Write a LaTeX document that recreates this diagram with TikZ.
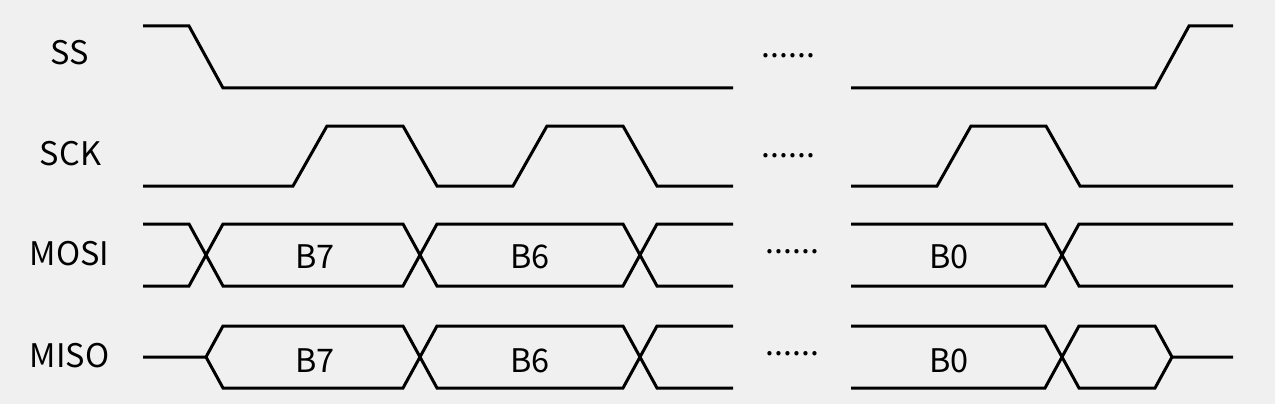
\documentclass[tikz,border=0pt]{standalone}
\usepackage{fontspec}
\setmainfont{Noto Sans CJK SC}
\definecolor{bg}{HTML}{F0F0F0}
\begin{document}
\begin{tikzpicture}[x=1pt,y=-1pt,
  sig/.style={line width=3pt,black,line join=miter},
  lbl/.style={anchor=base,inner sep=0pt,font=\fontsize{32.5}{32.5}\selectfont},
  dots/.style={anchor=base,inner sep=0pt,font=\fontsize{32}{32}\selectfont}]
\fill[bg] (0,0) rectangle (1275,404);
\useasboundingbox (0,0) rectangle (1275,404);
% labels
\node[lbl] (lss) at (69.5,65) {SS};
\node[lbl] (lsck) at (70.5,165) {SCK};
\node[lbl] (lmosi) at (69.5,265) {MOSI};
\node[lbl] (lmiso) at (69.5,367) {MISO};
% SS
\draw[sig] (143,26) -- (189,26) -- (223,88) -- (733,88);
\draw[sig] (851,88) -- (1155,88) -- (1189,26) -- (1233,26);
% SCK
\draw[sig] (143,186) -- (293,186) -- (327,126) -- (403,126) -- (437,186) -- (513,186) -- (547,126) -- (623,126) -- (657,186) -- (733,186);
\draw[sig] (851,186) -- (937,186) -- (971,126) -- (1046,126) -- (1080,186) -- (1233,186);
% MOSI
\draw[sig] (143,224) -- (189,224) -- (223,286) -- (403,286) -- (437,224) -- (623,224) -- (657,286) -- (733,286);
\draw[sig] (143,286) -- (189,286) -- (223,224) -- (403,224) -- (437,286) -- (623,286) -- (657,224) -- (733,224);
\draw[sig] (851,224) -- (1045,224) -- (1079,286) -- (1233,286);
\draw[sig] (851,286) -- (1045,286) -- (1079,224) -- (1233,224);
% MISO
\draw[sig] (143,357) -- (206,357) -- (223,326) -- (403,326) -- (437,388) -- (623,388) -- (657,326) -- (733,326);
\draw[sig] (206,357) -- (223,388) -- (403,388) -- (437,326) -- (623,326) -- (657,388) -- (733,388);
\draw[sig] (851,326) -- (1045,326) -- (1079,388) -- (1155,388) -- (1172,357) -- (1233,357);
\draw[sig] (851,388) -- (1045,388) -- (1079,326) -- (1155,326) -- (1172,357);
% data labels
\node[lbl] (b7a) at (315,268) {B7};
\node[lbl] (b6a) at (530,268) {B6};
\node[lbl] (b0a) at (949,268) {B0};
\node[lbl] (b7b) at (315,372) {B7};
\node[lbl] (b6b) at (530,372) {B6};
\node[lbl] (b0b) at (949,372) {B0};
% dots
\node[dots] (d1) at (788.5,58) {......};
\node[dots] (d2) at (788.5,157) {......};
\node[dots] (d3) at (792.5,253) {......};
\node[dots] (d4) at (792.5,355) {......};
\end{tikzpicture}
\end{document}
